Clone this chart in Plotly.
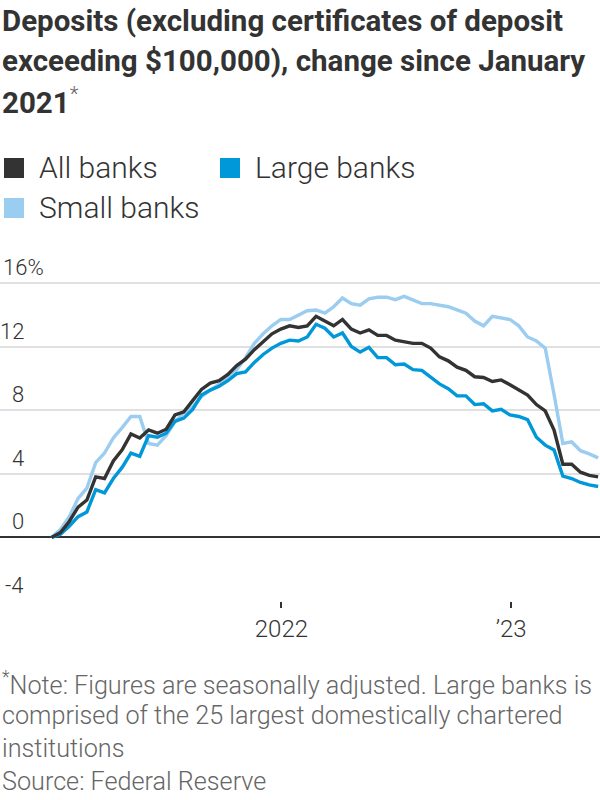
"""Deposits change since January 2021: all, large and small banks."""

import pandas as pd
import plotly.graph_objects as go

W, H = 600, 800
DARK = '#333333'
BLUE = '#0098d8'
LIGHT_BLUE = '#9acdf0'
GRID = '#e0e0e0'
NOTE_GRAY = '#666666'
FONT = 'Roboto'

# biweekly readings, % change since January 2021
dates = pd.date_range('2021-01-01', periods=63, freq='14D')

all_banks = [
    0.0, 0.3, 1.0, 1.9, 2.35, 3.8, 3.7, 4.8, 5.5, 6.5, 6.25, 6.75, 6.55, 6.8, 7.7, 7.9, 8.6,
    9.3, 9.7, 9.85, 10.25, 10.8, 11.2, 11.8, 12.3, 12.8, 13.1, 13.3, 13.2, 13.3, 13.9, 13.6, 13.3, 13.7,
    13.1, 12.85, 13.05, 12.7, 12.7, 12.4, 12.3, 12.2, 12.2, 11.9, 11.35, 11.1, 10.7, 10.5,
    10.1, 10.05, 9.8, 9.9, 9.6, 9.25, 8.95, 8.35, 7.95, 6.75, 4.6, 4.6, 4.1, 3.9, 3.8,
]
large_banks = [
    0.0, 0.2, 0.7, 1.3, 1.6, 3.0, 2.8, 3.7, 4.4, 5.3, 5.1, 6.4, 6.3, 6.55, 7.3, 7.5, 8.05,
    8.95, 9.26, 9.5, 9.85, 10.3, 10.4, 11.0, 11.5, 11.9, 12.2, 12.4, 12.35, 12.6, 13.4, 13.15, 12.6, 12.85,
    12.0, 11.65, 11.95, 11.3, 11.3, 10.85, 10.9, 10.55, 10.5, 10.05, 9.65, 9.35, 8.9, 8.9,
    8.35, 8.4, 7.95, 8.05, 7.7, 7.6, 7.4, 6.3, 5.8, 5.5, 3.85, 3.7, 3.45, 3.3, 3.2,
]
small_banks = [
    0.0, 0.5, 1.3, 2.45, 3.1, 4.7, 5.3, 6.25, 6.9, 7.6, 7.6, 5.9, 5.8, 6.4, 7.3, 7.8, 8.2,
    8.85, 9.26, 9.6, 10.0, 10.55, 11.3, 12.2, 12.8, 13.3, 13.7, 13.7, 14.0, 14.25, 14.3, 14.1, 14.5, 15.05,
    14.7, 14.6, 15.0, 15.1, 15.1, 14.95, 15.15, 14.9, 14.7, 14.7, 14.6, 14.5, 14.3, 14.1,
    13.6, 13.3, 13.9, 13.8, 13.7, 13.3, 12.6, 12.35, 11.9, 9.0, 5.9, 6.0, 5.45, 5.25, 5.0,
]

y_ticks = [16, 12, 8, 4, 0, -4]
y_labels = ['16%', '12', '8', '4', '0', '-4']
x_ticks = ['2022-01-01', '2023-01-01']
x_labels = ['2022', '\u201923']

series = [
    ('Small banks', small_banks, LIGHT_BLUE),
    ('Large banks', large_banks, BLUE),
    ('All banks', all_banks, DARK),
]

title_lines = [
    'Deposits (excluding certificates of deposit',
    'exceeding $100,000), change since January',
    "2021<sup><span style='font-weight:300;color:#666'>*</span></sup>",
]
note_lines = [
    "<sup>*</sup>Note: Figures are seasonally adjusted. Large banks is",
    'comprised of the 25 largest domestically chartered',
    'institutions',
    'Source: Federal Reserve',
]


def px(x):
    return x / W


def py(y):
    return 1 - y / H


fig = go.Figure()
for name, values, color in series:
    fig.add_trace(go.Scatter(
        x=dates, y=values, mode='lines', name=name,
        line=dict(color=color, width=3.4), showlegend=False,
        hovertemplate='%{x|%b %d, %Y}: %{y:.1f}%<extra>' + name + '</extra>',
    ))

annotations = []
for i, line in enumerate(title_lines):
    annotations.append(dict(
        text=line, x=px(0), y=py(21 + 40 * i), xref='paper', yref='paper',
        xanchor='left', yanchor='middle', showarrow=False,
        font=dict(family=FONT, size=29.5, weight=700, color=DARK),
    ))

# legend: coloured squares + labels
legend_items = [
    ('All banks', DARK, 4, 168),
    ('Large banks', BLUE, 220, 168),
    ('Small banks', LIGHT_BLUE, 4, 208),
]
shapes = []
for label, color, x0, yc in legend_items:
    shapes.append(dict(
        type='rect', xref='paper', yref='paper',
        x0=px(x0), x1=px(x0 + 20), y0=py(yc - 10), y1=py(yc + 10),
        fillcolor=color, line=dict(width=0),
    ))
    annotations.append(dict(
        text=label, x=px(x0 + 33), y=py(yc - 1), xref='paper', yref='paper',
        xanchor='left', yanchor='middle', showarrow=False,
        font=dict(family=FONT, size=30, weight=300, color=DARK),
    ))

for val, lab in zip(y_ticks, y_labels):
    pct = lab.endswith('%')
    annotations.append(dict(
        text=lab, x=px(1 if pct else 26), y=val, xref='paper', yref='y',
        xanchor='left' if pct else 'right', yanchor='bottom', yshift=1,
        showarrow=False,
        font=dict(family=FONT, size=22, weight=300, color=DARK),
    ))

for i, line in enumerate(note_lines):
    annotations.append(dict(
        text=line, x=px(0), y=py(683 + 32.7 * i), xref='paper', yref='paper',
        xanchor='left', yanchor='middle', showarrow=False,
        font=dict(family=FONT, size=25.2, weight=300, color=NOTE_GRAY),
    ))

fig.update_layout(
    width=W, height=H,
    margin=dict(l=0, r=0, t=0, b=0),
    paper_bgcolor='white', plot_bgcolor='white',
    font=dict(family=FONT, color=DARK),
    showlegend=False,
    annotations=annotations,
    shapes=shapes,
    xaxis=dict(
        type='date', range=['2020-10-11', '2023-05-22'],
        tickvals=x_ticks, ticktext=x_labels,
        ticks='outside', ticklen=6, tickwidth=2, tickcolor=DARK,
        showgrid=False, zeroline=False, showline=False,
        tickfont=dict(family=FONT, size=24, weight=300, color=DARK),
        fixedrange=True,
    ),
    yaxis=dict(
        range=[-4, 17], domain=[py(601), py(267)],
        tickvals=y_ticks, showticklabels=False, ticks='',
        showgrid=True, gridcolor=GRID, gridwidth=1.5,
        zeroline=True, zerolinecolor=DARK, zerolinewidth=2,
        showline=False, fixedrange=True,
    ),
)

fig.write_html(
    'out.html',
    config={'displayModeBar': False},
    post_script="document.body.style.margin='0';document.body.style.padding='0';",
)
